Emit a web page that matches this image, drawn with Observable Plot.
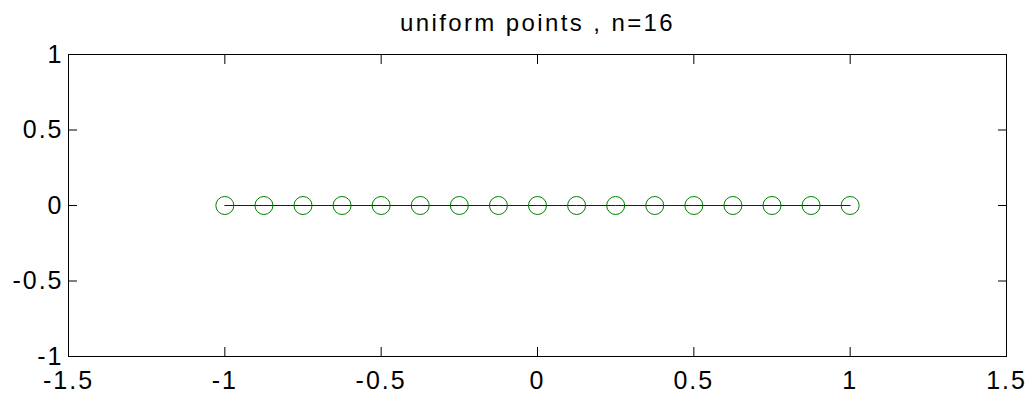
<!DOCTYPE html>
<html><head><meta charset="utf-8">
<script src="https://cdn.jsdelivr.net/npm/d3@7"></script>
<script src="https://cdn.jsdelivr.net/npm/@observablehq/plot@0.6"></script>
<style>
body{margin:0;background:#fff}
g[aria-label="x-axis tick label"] text, g[aria-label="y-axis tick label"] text {letter-spacing:2px}
g[aria-label="text"] text {letter-spacing:2.4px}
</style>
</head><body><div id="chart"></div>
<script>
const title = "uniform points , n=16";
const xPoints = [-1, -0.875, -0.75, -0.625, -0.5, -0.375, -0.25, -0.125, 0, 0.125, 0.25, 0.375, 0.5, 0.625, 0.75, 0.875, 1];
const yPoints = [0, 0, 0, 0, 0, 0, 0, 0, 0, 0, 0, 0, 0, 0, 0, 0, 0];
const xTicks = [-1.5, -1, -0.5, 0, 0.5, 1, 1.5];
const yTicks = [-1, -0.5, 0, 0.5, 1];

const data = xPoints.map((x, i) => ({x, y: yPoints[i]}));
const fmt = d => String(d);

const plot = Plot.plot({
  width: 1030, height: 400,
  marginLeft: 68, marginRight: 24, marginTop: 54, marginBottom: 44,
  style: {fontFamily: "'Liberation Sans', Arial, Helvetica, sans-serif", background: "white", color: "black"},
  x: {domain: [-1.5, 1.5]},
  y: {domain: [-1, 1]},
  marks: [
    Plot.frame({stroke: "black"}),
    Plot.axisX({anchor: "bottom", ticks: xTicks, tickSize: -9, tickPadding: 24, tickFormat: fmt, fontSize: 25, label: null}),
    Plot.axisX({anchor: "top", ticks: xTicks, tickSize: -9, tickFormat: () => "", label: null}),
    Plot.axisY({anchor: "left", ticks: yTicks, tickSize: -9, tickPadding: 14, tickFormat: fmt, fontSize: 25, label: null}),
    Plot.axisY({anchor: "right", ticks: yTicks, tickSize: -9, tickFormat: () => "", label: null}),
    Plot.line(data, {x: "x", y: "y", stroke: "#0000ff", strokeWidth: 1}),
    Plot.dot(data, {x: "x", y: "y", r: 9, stroke: "#008000", fill: "none", strokeWidth: 1}),
    Plot.text([title], {frameAnchor: "top", lineAnchor: "bottom", dy: -24, fontSize: 24, fill: "black"})
  ]
});
document.getElementById("chart").appendChild(plot);
</script>
</body></html>
